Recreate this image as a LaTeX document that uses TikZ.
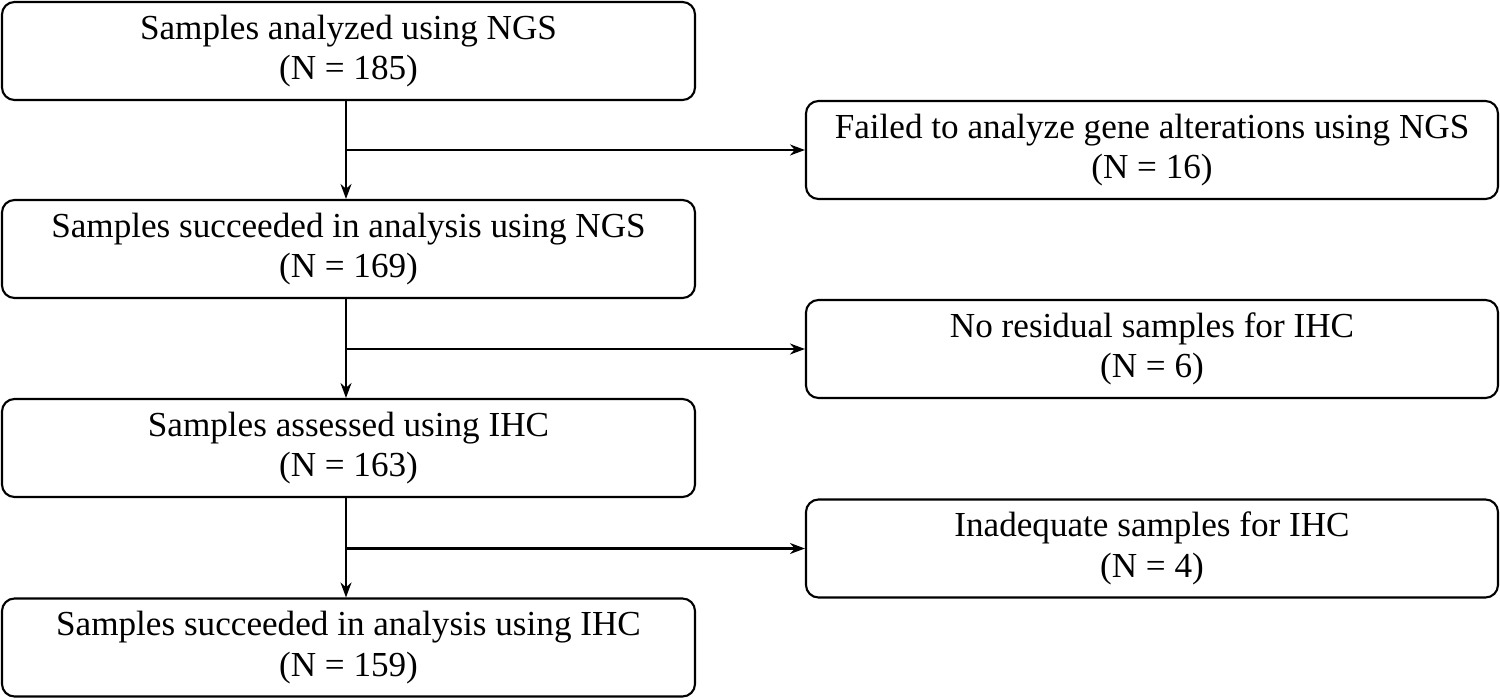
\documentclass[tikz,border=0pt]{standalone}
\usepackage{fontspec}
\setmainfont{Liberation Serif}
\usetikzlibrary{arrows.meta}

\tikzset{
    box/.style={draw, line width=1.2pt, rounded corners=0.25cm, align=center,
        minimum width=13.86cm, minimum height=1.96cm, inner sep=0pt,
        font=\fontsize{20}{23}\selectfont},
    arr/.style={line width=1.2pt, -{Stealth[length=0.3cm, width=0.22cm]}}
}

\begin{document}
\begin{tikzpicture}
    \useasboundingbox (0,0) rectangle (30,-13.98);

    % main column
    \node[box] (s1) at (6.97,-1.02) {Samples analyzed using NGS\\(N = 185)};
    \node[box] (s2) at (6.97,-4.98) {Samples succeeded in analysis using NGS\\(N = 169)};
    \node[box] (s3) at (6.97,-8.96) {Samples assessed using IHC\\(N = 163)};
    \node[box] (s4) at (6.97,-12.95) {Samples succeeded in analysis using IHC\\(N = 159)};

    % excluded
    \node[box, minimum width=13.84cm] (x1) at (23.04,-3.0) {Failed to analyze gene alterations using NGS\\(N = 16)};
    \node[box, minimum width=13.84cm] (x2) at (23.04,-6.98) {No residual samples for IHC\\(N = 6)};
    \node[box, minimum width=13.84cm] (x3) at (23.04,-10.97) {Inadequate samples for IHC\\(N = 4)};

    \coordinate (spine) at (6.92,0);

    \draw[arr] (s1.south -| spine) -- (s2.north -| spine);
    \draw[arr] (s2.south -| spine) -- (s3.north -| spine);
    \draw[arr] (s3.south -| spine) -- (s4.north -| spine);

    \draw[arr] (x1.west -| spine) -- (x1.west);
    \draw[arr] (x2.west -| spine) -- (x2.west);
    \draw[arr] (x3.west -| spine) -- (x3.west);
\end{tikzpicture}
\end{document}
